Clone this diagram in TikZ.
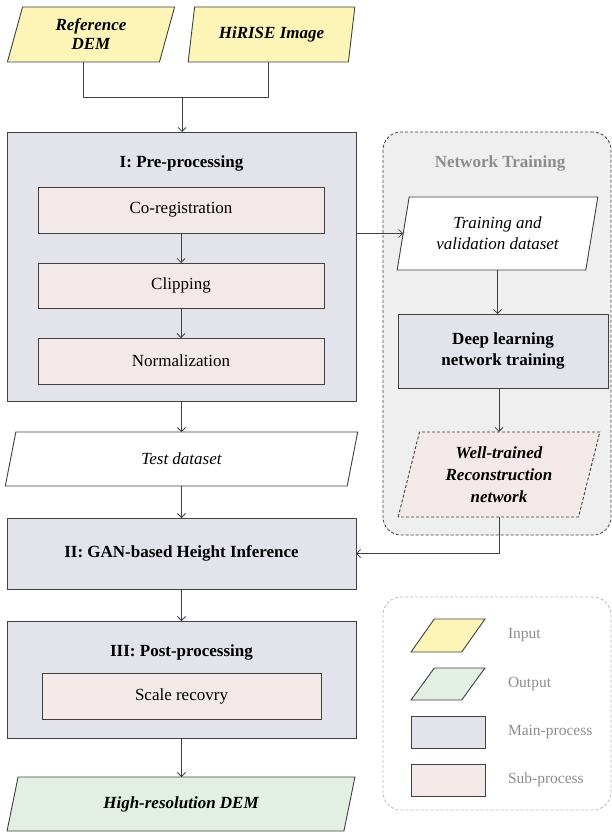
\documentclass[tikz,border=0pt]{standalone}
\usepackage{fontspec}
\setmainfont{Liberation Serif}
\usetikzlibrary{shapes.geometric,arrows.meta}
\definecolor{inyel}{HTML}{FDF5B8}
\definecolor{outgrn}{HTML}{E4EFE4}
\definecolor{mainc}{HTML}{E3E3EC}
\definecolor{subc}{HTML}{F3E9E9}
\definecolor{ntfill}{HTML}{EFEFEF}
\definecolor{lc}{HTML}{404040}
\definecolor{gtxt}{HTML}{8C8C8C}
\definecolor{leglc}{HTML}{BBBBBB}
\newcommand\mainfs{\fontsize{17}{21}\selectfont}
\newcommand\legfs{\fontsize{15.5}{19}\selectfont}
\begin{document}
\begin{tikzpicture}[x=1pt,y=-1pt,
  every node/.style={inner sep=0pt, outer sep=0pt},
  para/.style={trapezium, trapezium left angle=#1, trapezium right angle=180-#1,
     trapezium stretches=true, draw=lc, line width=0.9pt, align=center, inner sep=2pt},
  mainbox/.style={rectangle, draw=lc, fill=mainc, line width=0.9pt, align=center},
  subbox/.style={rectangle, draw=lc, fill=subc, line width=0.9pt, align=center},
  txt/.style={font=\mainfs},
  btxt/.style={font=\mainfs\bfseries},
  ln/.style={draw=lc, line width=0.8pt},
  arr/.style={ln, -{Straight Barb[length=4pt,width=8pt]}},
  legtxt/.style={font=\legfs, text=gtxt, anchor=west},
  container/.style={rectangle, rounded corners=18pt, dash pattern=on 3pt off 2pt, line width=0.8pt}
]
\useasboundingbox (0,0) rectangle (612,832);

% containers
\node[container, draw=lc, fill=ntfill, minimum width=228, minimum height=403] (net) at (497,333.5) {};
\node[font=\mainfs\bfseries, text=gtxt] (nett) at (500,163) {Network Training};
\node[container, draw=leglc, minimum width=228, minimum height=213] (leg) at (497,703.5) {};

% inputs
\node[para=76.7, fill=inyel, minimum width=168, minimum height=55, font=\mainfs\bfseries\itshape] (ref) at (91,34.5) {Reference\\[-2pt]DEM};
\node[para=76.7, fill=inyel, minimum width=167, minimum height=55, font=\mainfs\bfseries\itshape] (hir) at (271.5,34.5) {HiRISE Image};

% pre-processing
\node[mainbox, minimum width=349, minimum height=269] (pre) at (181.5,266.5) {};
\node[btxt] (pret) at (181.5,163) {I: Pre-processing};
\node[subbox, minimum width=286, minimum height=46, txt] (co) at (181,210) {Co-registration};
\node[subbox, minimum width=286, minimum height=45, txt] (clip) at (181,285.5) {Clipping};
\node[subbox, minimum width=286, minimum height=46, txt] (norm) at (181,361) {Normalization};

% test dataset
\node[para=80.5, fill=white, minimum width=355, minimum height=54, font=\mainfs\itshape] (test) at (181.5,459) {Test dataset};

% GAN
\node[mainbox, minimum width=349, minimum height=71, btxt] (gan) at (181.5,553.5) {II: GAN-based Height Inference};

% post
\node[mainbox, minimum width=349, minimum height=117] (post) at (181.5,679.5) {};
\node[btxt] (postt) at (181.5,652) {III: Post-processing};
\node[subbox, minimum width=279, minimum height=46, txt] (scale) at (181.5,696) {Scale recovry};

% output
\node[para=74.5, fill=outgrn, minimum width=348, minimum height=54, font=\mainfs\bfseries\itshape] (hr) at (181,804) {High-resolution DEM};

% network training
\node[para=76.9, fill=white, minimum width=201, minimum height=73, font=\mainfs\itshape] (train) at (497.5,233.5) {Training and\\validation dataset};
\node[mainbox, minimum width=210, minimum height=74, btxt] (deep) at (503,351) {Deep learning\\network training};
\node[para=76.1, fill=subc, dash pattern=on 3pt off 2pt, minimum width=202, minimum height=85, font=\mainfs\bfseries\itshape] (well) at (499,474.5) {Well-trained\\[1pt]Reconstruction\\[1pt]network};

% legend
\node[para=78, fill=inyel, minimum width=74, minimum height=33] (lin) at (448,635.5) {\strut};
\node[legtxt] (linl) at (508,635.5) {Input};
\node[para=78, fill=outgrn, minimum width=74, minimum height=32] (lout) at (448,684) {\strut};
\node[legtxt] (loutl) at (508,684) {Output};
\node[mainbox, minimum width=74, minimum height=32] (lmain) at (448,732) {};
\node[legtxt] (lmainl) at (508,732) {Main-process};
\node[subbox, minimum width=74, minimum height=32] (lsub) at (448,780) {};
\node[legtxt] (lsubl) at (508,780) {Sub-process};

% connectors
\coordinate (m) at (182,97);
\draw[ln] (ref.bottom side) |- (m);
\draw[ln] (hir.bottom side) |- (m);
\draw[arr] (m) -- (m |- pre.north);
\draw[arr] (co.south) -- (clip.north);
\draw[arr] (clip.south) -- (norm.north);
\draw[arr] (pre.south) -- (pre.south |- test.top side);
\draw[arr] (test.center |- test.bottom side) -- (gan.north);
\draw[arr] (gan.south) -- (post.north);
\draw[arr] (post.south) -- (post.south |- hr.top side);
\draw[arr] (train.left side -| pre.east) -- (train.left side);
\draw[arr] (train.center |- train.bottom side) -- (train.center |- deep.north);
\draw[arr] (well.center |- deep.south) -- (well.center |- well.top side);
\draw[arr] (well.center |- well.bottom side) |- (gan.east);
\end{tikzpicture}
\end{document}
